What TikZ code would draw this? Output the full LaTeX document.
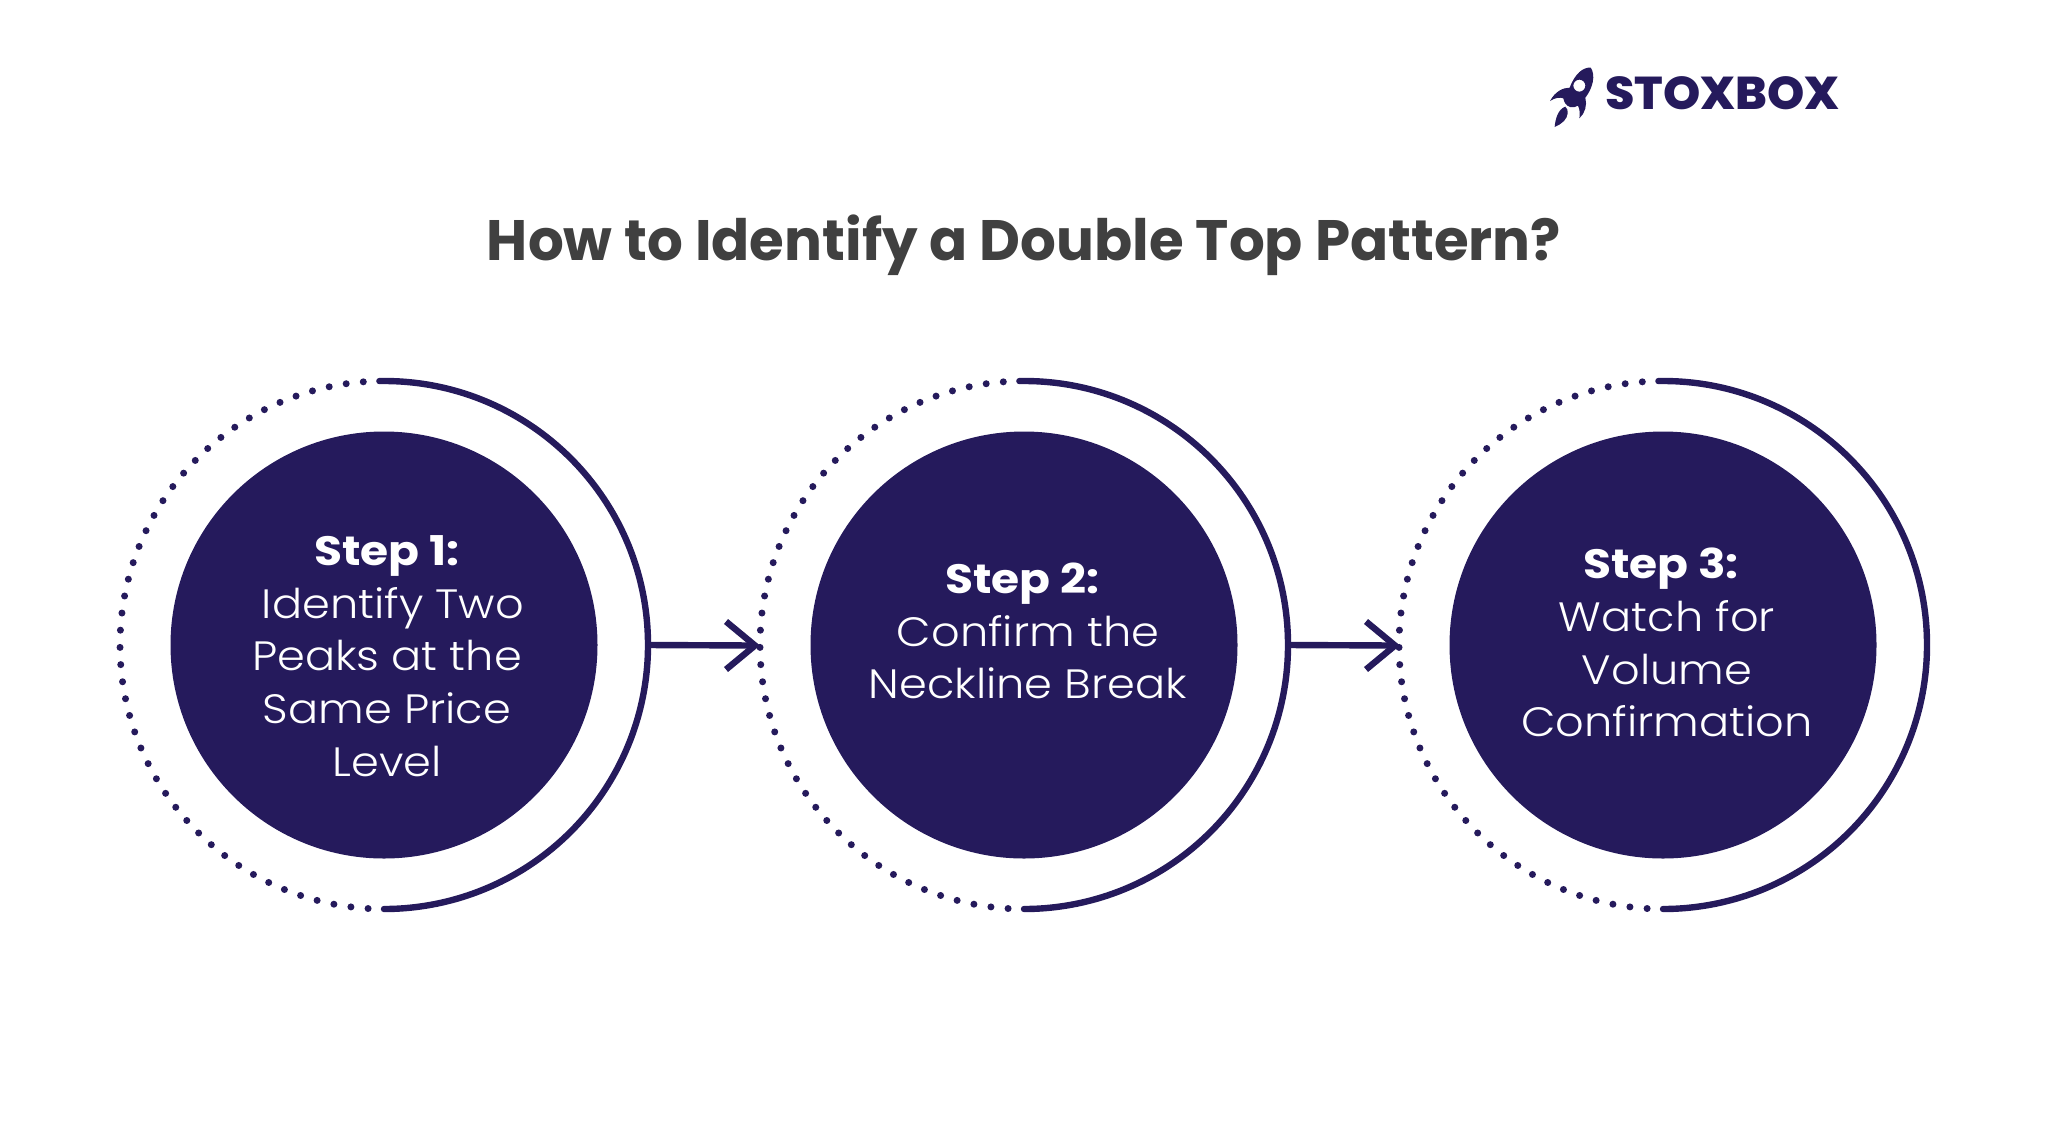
\documentclass[tikz,border=0pt]{standalone}
\usepackage{fontspec}
\setmainfont{Poppins}
\newfontfamily\lightf{Poppins Light}[FakeStretch=1.09]
\newfontfamily\boldf{Poppins}[FakeStretch=1.11,UprightFont=* Bold]
\newfontfamily\titlef{Poppins}[FakeStretch=0.987,UprightFont=* Bold]
\newfontfamily\logof{Poppins}[FakeStretch=1.03,UprightFont=* ExtraBold]
\definecolor{navy}{HTML}{251A5C}
\definecolor{titlegrey}{HTML}{404040}
\usetikzlibrary{calc}
\tikzset{
  px/.style={x=0.5pt,y=-0.5pt},
  disc/.style={circle,fill=navy,draw=none,minimum size=213.5pt,inner sep=0pt},
  steptext/.style={text=white,align=center,font=\lightf\fontsize{20.5}{26.4}\selectfont},
  ringline/.style={draw=navy,line width=3.2pt,line cap=round},
  arrowline/.style={draw=navy,line width=3.2pt},
  ringdot/.style={fill=navy,draw=none},
}
\newcommand{\ringat}[3]{%
  \coordinate (#1) at (#2,#3);
  \node[disc] (#1disc) at (#1) {};
  \draw[ringline] (#1) ++(91:132pt) arc[start angle=91,end angle=-90,radius=132pt];
  \foreach \a in {94.5,98.24,...,267.5}{\fill[ringdot] (#1) ++(\a:132pt) circle[radius=1.75pt];}
  \coordinate (#1right) at ($(#1)+(264,0)$);
}
\begin{document}
\begin{tikzpicture}[px]
\useasboundingbox (0,0) rectangle (2048,1146);
\node[font=\titlef\fontsize{28.5}{33}\selectfont,text=titlegrey] (title) at (1024,245) {How to Identify a Double Top Pattern?};
\ringat{a}{384}{645}
\ringat{b}{1024}{645}
\ringat{c}{1663}{645}
\node[steptext] (s1) at (387,656) {{\boldf Step 1:}\\\hspace*{6pt}Identify Two\\Peaks at the\\Same Price\\Level};
\node[steptext] (s2) at (1028,631) {{\boldf Step 2:}\hspace*{6pt}\\Confirm the\\Neckline Break};
\node[steptext] (s3) at (1667,642.5) {{\boldf Step 3:}\hspace*{6pt}\\Watch for\\Volume\\Confirmation};
\coordinate (tipa) at (755,645.5);
\coordinate (tipb) at (1395,645.5);
\draw[arrowline] (aright) -- (tipa);
\draw[arrowline] (bright) -- (tipb);
\draw[arrowline] ($(tipa)+(-29,-24)$) -- (tipa) -- ($(tipa)+(-29,24)$);
\draw[arrowline] ($(tipb)+(-29,-24)$) -- (tipb) -- ($(tipb)+(-29,24)$);
\node[font=\logof\fontsize{23}{28}\selectfont,text=navy,anchor=west,inner sep=0pt] (logo) at (1605,93) {STOXBOX};
\begin{scope}[shift={(1540,55)},x=0.16667pt,y=-0.16667pt]
\fill[navy,even odd rule]
  (152,38) .. controls (130,36) and (105,55) .. (89,98)
  .. controls (68,98) and (45,110) .. (30,138)
  .. controls (45,128) and (60,126) .. (70,130)
  .. controls (72,142) and (78,152) .. (90,156)
  .. controls (100,158) and (107,156) .. (114,152)
  .. controls (120,165) and (120,178) .. (118,190)
  .. controls (135,175) and (142,150) .. (136,128)
  .. controls (158,100) and (168,60) .. (152,38) -- cycle
  (118,92) circle[radius=18];
\fill[navy] (44,216) .. controls (46,190) and (55,162) .. (76,155)
  .. controls (88,165) and (84,185) .. (72,198)
  .. controls (64,206) and (54,212) .. (44,216) -- cycle;
\end{scope}
\end{tikzpicture}
\end{document}
